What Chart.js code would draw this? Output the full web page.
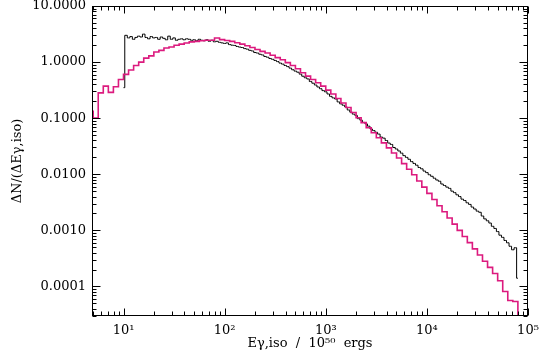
<!DOCTYPE html>
<html lang="en">
<head>
<meta charset="UTF-8">
<title>Egamma,iso distribution</title>
<script src="https://cdn.jsdelivr.net/npm/chart.js"></script>
<style>
  html, body { margin: 0; padding: 0; background: #fff; }
  .chart-box { width: 539px; height: 363px; }
</style>
</head>
<body>
<div class="chart-box"><canvas id="distChart"></canvas></div>
<script>
// magenta histogram: 0.05 dex bins, first bin centre at 10^0.675
const magentaFirstCentreDex = 0.675;
const magentaBinDex = 0.05;
const magentaValues = [
  0.132, 0.100, 0.282, 0.372, 0.288, 0.363, 0.490, 0.603, 0.724, 0.871,
  1.00, 1.175, 1.29, 1.51, 1.62, 1.78, 1.86, 2.00, 2.09, 2.19,
  2.29, 2.34, 2.40, 2.45, 2.45, 2.69, 2.51, 2.43, 2.34, 2.21,
  2.09, 1.95, 1.82, 1.68, 1.55, 1.45, 1.32, 1.20, 1.10, 0.977,
  0.871, 0.759, 0.646, 0.562, 0.490, 0.427, 0.372, 0.316, 0.269, 0.224,
  0.186, 0.155, 0.126, 0.102, 0.0832, 0.0676, 0.0550, 0.0447, 0.0363, 0.0295,
  0.0240, 0.0195, 0.0155, 0.0123, 0.00977, 0.00759, 0.00589, 0.00457, 0.00355, 0.00275,
  0.00214, 0.00166, 0.00129, 0.00100, 0.000776, 0.000603, 0.000468, 0.000363, 0.000282, 0.000219,
  0.000170, 0.000126, 0.0000813, 0.0000562, 0.0000537,
  0.000001 // empty bin, falls below the axis
];

// black histogram: 0.025 dex bins, first bin centre at 10^1.0
const blackFirstCentreDex = 1.0;
const blackBinDex = 0.025;
const blackValues = [
  0.35,
  3.0, 2.7, 2.85, 2.55, 2.75, 2.9, 2.8, 3.15, 2.75,
  2.6, 2.85, 2.7, 2.75, 2.55, 2.8, 2.65, 2.5, 2.9, 2.55,
  2.7, 2.45, 2.55, 2.6, 2.5, 2.6, 2.55, 2.45, 2.5, 2.4,
  2.55, 2.45, 2.4, 2.5, 2.35, 2.45, 2.3, 2.35, 2.25, 2.2,
  2.15, 2.2, 2.05, 2.0, 1.98, 1.9, 1.85, 1.82, 1.74, 1.7,
  1.62, 1.58, 1.48, 1.45, 1.38, 1.34, 1.26, 1.22, 1.16, 1.12,
  1.07, 1.02, 0.96, 0.92, 0.87, 0.83, 0.78, 0.73, 0.69, 0.66,
  0.61, 0.56, 0.525, 0.50, 0.45, 0.42, 0.39, 0.36, 0.335, 0.31,
  0.295, 0.27, 0.245, 0.23, 0.22, 0.195, 0.18, 0.17, 0.158, 0.14,
  0.128, 0.118, 0.112, 0.098, 0.092, 0.084, 0.079, 0.072, 0.064, 0.060,
  0.056, 0.052, 0.046, 0.044, 0.040, 0.036, 0.034, 0.030, 0.0282, 0.026,
  0.0238, 0.0215, 0.0200, 0.0185, 0.0168, 0.0156, 0.0145, 0.0132, 0.0125, 0.0114,
  0.0107, 0.0098, 0.0092, 0.0085, 0.0079, 0.0075, 0.0067, 0.0063, 0.0059, 0.0056,
  0.0050, 0.0047, 0.0043, 0.0040, 0.0036, 0.0034, 0.0031, 0.0029, 0.0026, 0.0024,
  0.0022, 0.0021, 0.0018, 0.0016, 0.00148, 0.00135, 0.00118, 0.00108, 0.00095, 0.00082,
  0.00075, 0.00066, 0.00060, 0.00052, 0.00045, 0.00049,
  0.00014
];

const xMajorTicks = [1e1, 1e2, 1e3, 1e4, 1e5];
const xTickLabels = ['10\u00b9', '10\u00b2', '10\u00b3', '10\u2074', '10\u2075'];
const yMajorTicks = [10, 1, 0.1, 0.01, 0.001, 0.0001];
const yTickLabels = ['10.0000', '1.0000', '0.1000', '0.0100', '0.0010', '0.0001'];

const toPoints = (values, firstDex, stepDex) =>
  values.map((v, i) => ({ x: Math.pow(10, firstDex + i * stepDex), y: v }));

// minor + major tick positions inside the axis range
function decadeMarks(scale) {
  const out = [];
  const lo = Math.floor(Math.log10(scale.min));
  const hi = Math.ceil(Math.log10(scale.max));
  for (let d = lo; d <= hi; d++) {
    for (let m = 1; m <= 9; m++) {
      const v = m * Math.pow(10, d);
      if (v >= scale.min * 0.999 && v <= scale.max * 1.001) out.push([v, m === 1]);
    }
  }
  return out;
}

// IDL-style frame with ticks pointing inward on all four sides
const innerTicks = {
  id: 'innerTicks',
  afterDraw(chart) {
    const { ctx, chartArea: a, scales } = chart;
    const left = Math.round(a.left) + 0.5, right = Math.round(a.right) - 0.5;
    const top = Math.round(a.top) + 0.5, bottom = Math.round(a.bottom) - 0.5;
    ctx.save();
    ctx.strokeStyle = '#000';
    ctx.lineWidth = 1;
    ctx.strokeRect(left, top, right - left, bottom - top);
    ctx.beginPath();
    decadeMarks(scales.x).forEach(([v, major]) => {
      const px = Math.round(scales.x.getPixelForValue(v)) + 0.5;
      const len = major ? 7 : 4;
      ctx.moveTo(px, bottom); ctx.lineTo(px, bottom - len);
      ctx.moveTo(px, top); ctx.lineTo(px, top + len);
    });
    decadeMarks(scales.y).forEach(([v, major]) => {
      const py = Math.round(scales.y.getPixelForValue(v)) + 0.5;
      const len = major ? 8 : 4;
      ctx.moveTo(left, py); ctx.lineTo(left + len, py);
      ctx.moveTo(right, py); ctx.lineTo(right - len, py);
    });
    ctx.stroke();
    ctx.restore();
  }
};

const serif = { family: '"DejaVu Serif", serif', size: 13 };

new Chart(document.getElementById('distChart'), {
  type: 'line',
  data: {
    datasets: [
      {
        data: toPoints(magentaValues, magentaFirstCentreDex, magentaBinDex),
        borderColor: '#dc1a7e',
        borderWidth: 1.6,
        stepped: 'middle',
        pointRadius: 0,
        fill: false
      },
      {
        data: toPoints(blackValues, blackFirstCentreDex, blackBinDex),
        borderColor: '#000',
        borderWidth: 1,
        stepped: 'middle',
        pointRadius: 0,
        fill: false
      }
    ]
  },
  options: {
    responsive: true,
    maintainAspectRatio: false,
    animation: false,
    events: [],
    layout: { padding: { top: 6, right: 11, bottom: 0, left: 0 } },
    plugins: { legend: { display: false }, tooltip: { enabled: false } },
    scales: {
      x: {
        type: 'logarithmic',
        min: 4.88,
        max: 1e5,
        grid: { display: false, drawTicks: false },
        border: { display: false },
        afterBuildTicks: (scale) => { scale.ticks = xMajorTicks.map(v => ({ value: v })); },
        afterFit: (scale) => {
          scale.height = 47;
          scale.paddingLeft = 0; scale.paddingRight = 0;
        },
        ticks: {
          autoSkip: false, maxRotation: 0, padding: 7, color: '#000', font: serif,
          callback: (v, i) => xTickLabels[i]
        },
        title: {
          display: true, text: 'E\u03b3,iso  /  10\u2075\u2070  ergs', color: '#000', font: serif,
          padding: { top: 0, bottom: 12 }
        }
      },
      y: {
        type: 'logarithmic',
        min: 2.97e-5,
        max: 10,
        grid: { display: false, drawTicks: false },
        border: { display: false },
        afterBuildTicks: (scale) => { scale.ticks = yMajorTicks.map(v => ({ value: v })); },
        afterFit: (scale) => {
          scale.width = 92;
          scale.paddingTop = 0; scale.paddingBottom = 0;
        },
        ticks: {
          autoSkip: false, padding: 6, color: '#000', font: serif,
          callback: (v, i) => yTickLabels[i]
        },
        title: {
          display: true, text: '\u0394N/(\u0394E\u03b3,iso)', color: '#000', font: serif,
          padding: { top: 10, bottom: 0 }
        }
      }
    }
  },
  plugins: [innerTicks]
});
</script>
</body>
</html>
